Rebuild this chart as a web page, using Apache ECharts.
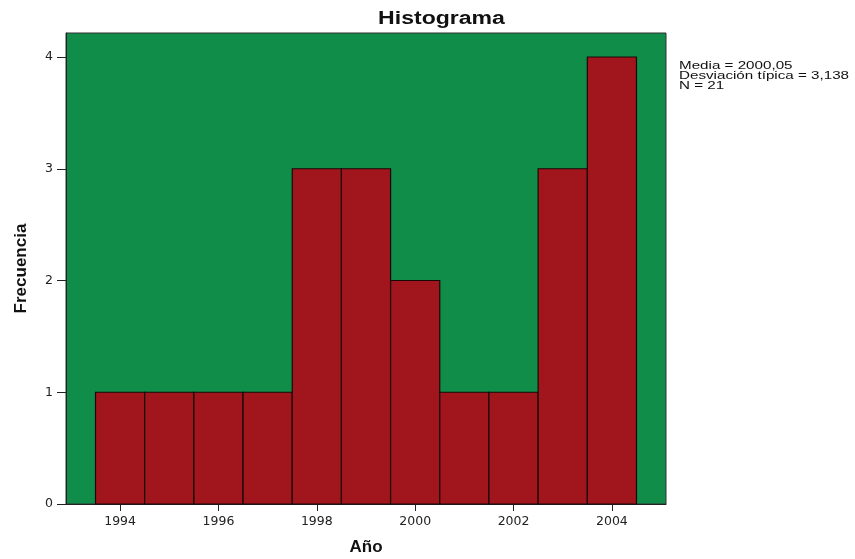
<!DOCTYPE html>
<html><head><meta charset="utf-8">
<script src="https://cdn.jsdelivr.net/npm/echarts@6/dist/echarts.min.js"></script>
<style>html,body{margin:0;padding:0;background:#fff}#c{width:855px;height:559px}</style>
</head><body><div id="c"></div>
<script>
const years = [1994,1995,1996,1997,1998,1999,2000,2001,2002,2003,2004];
const counts = [1,1,1,1,3,3,2,1,1,3,4];
const xTicks = [1994,1996,1998,2000,2002,2004];
const yTicks = [0,1,2,3,4];
const titleText = 'Histograma';
const statsLines = ['Media = 2000,05','Desviación típica = 3,138','N = 21'];

const chart = echarts.init(document.getElementById('c'));
const font = '"Liberation Sans", Arial, sans-serif';
const tickFont = '"DejaVu Sans", sans-serif';
chart.setOption({
  animation:false,
  backgroundColor:'#fff',
  graphic:[
    {type:'text',x:441.5,y:19,scaleX:1.28,
      style:{text:titleText,fontFamily:font,fontSize:18,fontWeight:'bold',fill:'#111',align:'center',verticalAlign:'middle'}},
    {type:'text',x:679,y:61,scaleX:1.38,
      style:{text:statsLines.join('\n'),fontFamily:font,fontSize:11,lineHeight:10,fill:'#111',align:'left',verticalAlign:'top'}}
  ],
  grid:{left:66,top:33,right:189,bottom:55,outerBoundsMode:'none',containLabel:false,show:true,backgroundColor:'#118D4A',borderColor:'#333',borderWidth:1},
  xAxis:{type:'value',min:1992.9,max:2005.1,
    name:'Año',nameLocation:'middle',nameGap:35,
    nameTextStyle:{fontFamily:font,fontSize:17,fontWeight:'bold',color:'#111'},
    axisLine:{show:true,lineStyle:{color:'#222'}},
    axisTick:{show:true,length:7,customValues:xTicks,lineStyle:{color:'#222'}},
    axisLabel:{customValues:xTicks,margin:11,fontFamily:tickFont,fontSize:12.5,color:'#222',formatter:v=>String(v)},
    splitLine:{show:false}},
  yAxis:{type:'value',min:0,max:4.215,
    name:'Frecuencia',nameLocation:'middle',nameGap:36,
    nameTextStyle:{fontFamily:font,fontSize:17,fontWeight:'bold',color:'#111'},
    axisLine:{show:true,lineStyle:{color:'#222'}},
    axisTick:{show:true,length:9,customValues:yTicks,lineStyle:{color:'#222'}},
    axisLabel:{customValues:yTicks,margin:13,fontFamily:tickFont,fontSize:12.5,color:'#222',formatter:v=>String(v)},
    splitLine:{show:false}},
  series:[{type:'custom',
    data:years.map((y,i)=>[y,counts[i]]),
    renderItem:function(params,api){
      const x=api.value(0), v=api.value(1);
      const p0=api.coord([x-0.5,v]), p1=api.coord([x+0.5,0]);
      return {type:'rect',shape:{x:p0[0],y:p0[1],width:p1[0]-p0[0],height:p1[1]-p0[1]},
        style:{fill:'#A0161C',stroke:'#1a0808',lineWidth:1.2}};
    }}]
});
</script></body></html>
